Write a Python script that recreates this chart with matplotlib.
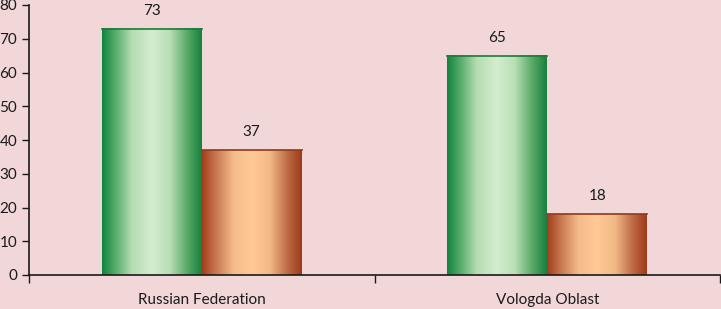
import matplotlib.pyplot as plt
import numpy as np
from matplotlib.colors import LinearSegmentedColormap

# Data
categories = ["Russian Federation", "Vologda Oblast"]
series_a = [73, 65]
series_b = [37, 18]

plt.rcParams['font.family'] = ['Lato', 'DejaVu Sans']

bg = '#F2D7D8'
green_cmap = LinearSegmentedColormap.from_list(
    'g', [(0, '#13843F'), (0.12, '#4FA866'), (0.3, '#B5DDB2'),
          (0.5, '#D4ECCF'), (0.68, '#B8DFB5'), (0.85, '#5AAA68'), (1, '#17803E')])
orange_cmap = LinearSegmentedColormap.from_list(
    'o', [(0, '#A13E1C'), (0.12, '#C3714A'), (0.32, '#F5BC8C'),
          (0.5, '#FFCA95'), (0.68, '#F2B987'), (0.86, '#BD6A45'), (1, '#9E3A1A')])

fig = plt.figure(figsize=(7.21, 3.09), dpi=100, facecolor=bg)
ax = fig.add_axes([29/721, 34/309, 691/721, 270/309])
ax.set_facecolor(bg)

x = np.arange(len(categories)) + 0.5
w = 0.289
bars_a = ax.bar(x - w/2, series_a, w, color='none', edgecolor='none')
bars_b = ax.bar(x + w/2, series_b, w, color='none', edgecolor='none')

grad = np.linspace(0, 1, 256).reshape(1, -1)
for bars, cmap, edge in [(bars_a, green_cmap, '#1E7A3C'), (bars_b, orange_cmap, '#8E3A1C')]:
    for b in bars:
        x0, y0 = b.get_x(), b.get_y()
        bw, bh = b.get_width(), b.get_height()
        ax.imshow(grad, cmap=cmap, aspect='auto', extent=[x0, x0 + bw, y0, y0 + bh], zorder=2)
        ax.plot([x0, x0 + bw], [bh, bh], color=edge, lw=1.2, zorder=3)
        ax.text(x0 + bw/2, bh + 3.2, f"{bh:.0f}", ha='center', va='bottom',
                fontsize=11, color='#1a1a1a')

ax.set_xlim(0, 2)
ax.set_ylim(0, 80)
ax.set_yticks(range(0, 81, 10))
ax.set_xticks(x)
ax.set_xticklabels(categories)
ax.set_xticks([0, 1, 2], minor=True)
ax.tick_params(axis='x', which='major', length=0, pad=13, labelsize=11, colors='#1a1a1a')
ax.tick_params(axis='x', which='minor', length=6, direction='out', width=1, color='#1a1a1a')
ax.tick_params(axis='y', length=5, direction='out', width=1, labelsize=11, colors='#1a1a1a')
for s in ['top', 'right']:
    ax.spines[s].set_visible(False)
for s in ['left', 'bottom']:
    ax.spines[s].set_color('#1a1a1a')
    ax.spines[s].set_linewidth(1.2)

fig.savefig('out.png', dpi=100, facecolor=bg)
